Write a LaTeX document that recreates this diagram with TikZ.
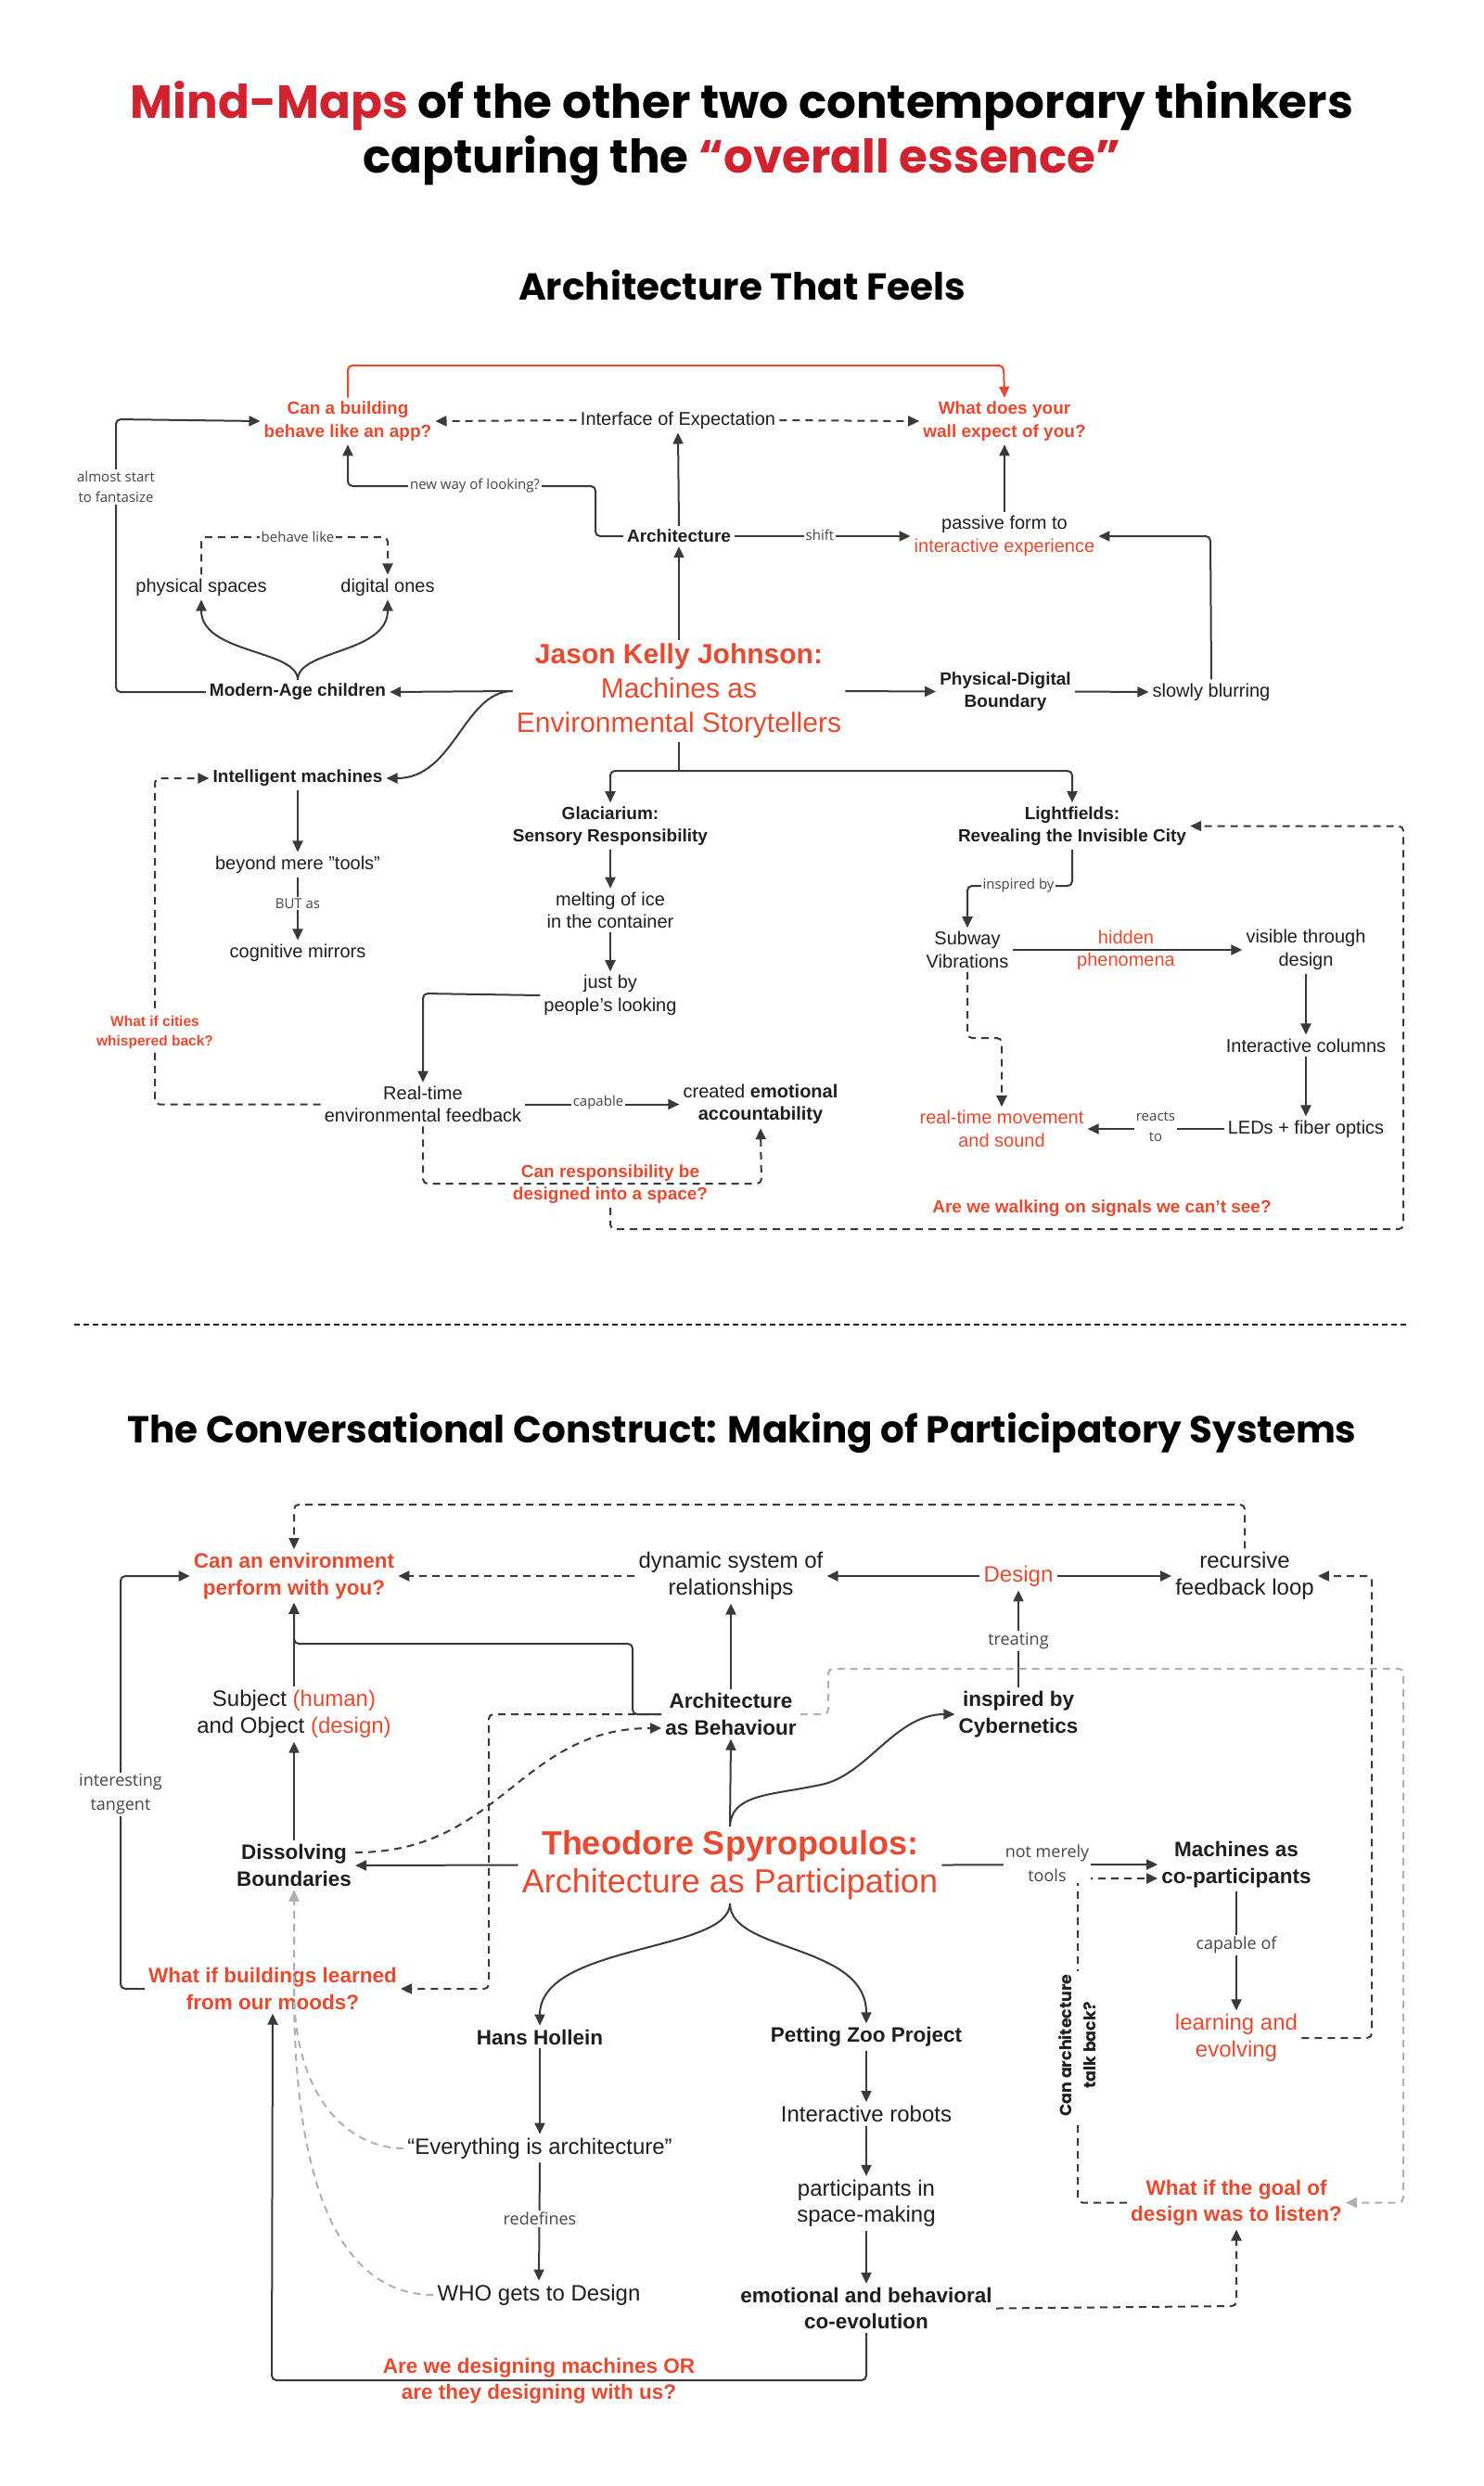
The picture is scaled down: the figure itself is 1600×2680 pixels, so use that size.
\documentclass[tikz,border=0pt]{standalone}
\usepackage{fontspec}
\setmainfont{Liberation Sans}
\newfontfamily\labfont{Open Sans}
\newfontfamily\ttlfont{Poppins}
\usetikzlibrary{arrows.meta,calc}
\definecolor{tred}{HTML}{D0232F}
\definecolor{nred}{HTML}{E84A2F}
\definecolor{ink}{HTML}{1E1E1E}
\definecolor{lnc}{HTML}{3A3A3A}
\definecolor{labc}{HTML}{454545}
\definecolor{gryd}{HTML}{B0B0B0}
\begin{document}
\begin{tikzpicture}[x=1pt,y=-1pt,
  every node/.style={text=ink, align=center, inner sep=4pt},
  ttl/.style={font=\ttlfont\bfseries\fontsize{50}{56}\selectfont, text=black, inner sep=0pt},
  stl/.style={font=\ttlfont\bfseries\fontsize{40.5}{46}\selectfont, text=black, inner sep=0pt},
  t1/.style={font=\fontsize{20}{24.5}\selectfont},
  t1b/.style={font=\fontsize{19}{24.5}\selectfont\bfseries},
  q1/.style={t1b, text=nred},
  r1/.style={t1, text=nred},
  q1s/.style={font=\fontsize{15.5}{21}\selectfont\bfseries, text=nred, fill=white, inner sep=2pt},
  c1/.style={font=\fontsize{30}{37}\selectfont, text=nred},
  t2/.style={font=\fontsize{24}{28.5}\selectfont},
  t2b/.style={font=\fontsize{22.5}{28.5}\selectfont\bfseries},
  q2/.style={t2b, text=nred},
  r2/.style={t2, text=nred},
  c2/.style={font=\fontsize{36}{41}\selectfont, text=nred},
  l1/.style={font=\labfont\fontsize{15}{22}\selectfont, text=labc, fill=white, inner sep=2pt},
  l2/.style={font=\labfont\fontsize{18}{26}\selectfont, text=labc, fill=white, inner sep=2pt},
  rotl/.style={font=\ttlfont\bfseries\fontsize{17.5}{26}\selectfont, text=ink, fill=white, inner sep=3pt},
  plain/.style={draw=lnc, line width=2pt, rounded corners=5pt},
  conn/.style={plain, -{Triangle[length=12pt,width=11pt]}},
  dconn/.style={conn, dash pattern=on 8pt off 6pt},
  rconn/.style={conn, draw=nred},
  gconn/.style={conn, draw=gryd, dash pattern=on 8pt off 6pt},
  sepl/.style={draw=ink, line width=2.5pt, dash pattern=on 6pt off 4pt}
]
\fill[white] (0,0) rectangle (1600,2680);
\useasboundingbox (0,0) rectangle (1600,2680);

% ---------- titles ----------
\node[ttl, anchor=base] (tl1) at (800,127) {\textcolor{tred}{Mind-Maps} of the other two contemporary thinkers};
\node[ttl, anchor=base] (tl2) at (800,186) {capturing the \textcolor{tred}{“overall essence”}};
\node[stl, anchor=base] (st1) at (800,323) {Architecture That Feels};
\node[stl, anchor=base] (st2) at (800,1555) {The Conversational Construct: Making of Participatory Systems};

% ---------- section 1 nodes ----------
\node[q1] (ca) at (375,454) {Can a building\\behave like an app?};
\node[t1] (ie) at (731,453) {Interface of Expectation};
\node[q1] (wd) at (1083,454) {What does your\\wall expect of you?};
\node[t1b] (arch) at (732,578) {Architecture};
\node[t1] (pf) at (1083,578) {passive form to\\\textcolor{nred}{interactive experience}};
\node[c1] (jkj) at (732,745) {\textbf{Jason Kelly Johnson:}\\Machines as\\Environmental Storytellers};
\node[t1b] (mac) at (321,746) {Modern-Age children};
\node[t1] (ps) at (217,633) {physical spaces};
\node[t1] (dg) at (418,633) {digital ones};
\node[t1b] (pdb) at (1084,745.5) {Physical-Digital\\Boundary};
\node[t1] (sb) at (1306,746) {slowly blurring};
\node[t1b] (im) at (321,839) {Intelligent machines};
\node[t1] (bm) at (321,932) {beyond mere "tools"};
\node[t1] (cm) at (321,1027) {cognitive mirrors};
\node[t1b] (gl) at (658,890.5) {Glaciarium:\\Sensory Responsibility};
\node[t1] (mi) at (658,981.5) {melting of ice\\in the container};
\node[t1] (jb) at (658,1073) {just by\\people's looking};
\node[t1] (rt) at (456,1190.5) {Real-time\\environmental feedback};
\node[t1] (cea) at (820,1190.5) {created \textbf{emotional}\\\textbf{accountability}};
\node[q1] (crq) at (658,1276.5) {Can responsibility be\\designed into a space?};
\node[t1b] (lf) at (1156,890.5) {Lightfields:\\Revealing the Invisible City};
\node[t1] (sv) at (1043,1024) {Subway\\Vibrations};
\node[t1] (vtd) at (1408,1024) {visible through\\design};
\node[t1] (ic) at (1408,1127) {Interactive columns};
\node[t1] (led) at (1408,1217) {LEDs + fiber optics};
\node[r1] (rtm) at (1080,1217) {real-time movement\\and sound};
\node[q1] (aw) at (1188,1303) {Are we walking on signals we can't see?};

% ---------- section 1 connectors ----------
\draw[rconn] (ca.north) -- (375,394) -- (1082,394) -- (wd.north);
\draw[dconn] (ie.west) -- (ca.east);
\draw[dconn] (ie.east) -- (wd.west);
\draw[conn] (arch.north) -- (ie.south);
\draw[conn] (arch.west) -- (642,578) -- (642,524) -- (375,524) -- (ca.south);
\draw[conn] (arch.east) -- (pf.west);
\draw[conn] (pf.north) -- (wd.south);
\draw[conn] (sb.north) -- (1305,578) -- (pf.east);
\draw[conn] (jkj.east) -- (pdb.west);
\draw[conn] (pdb.east) -- (sb.west);
\draw[conn] (jkj.north) -- (arch.south);
\draw[conn] (jkj.west) -- (mac.east);
\draw[conn] (jkj.west) .. controls (500,745) and (490,839) .. (im.east);
\draw[conn] (mac.west) -- (125,746) -- (125,452) -- (ca.west);
\draw[conn] (mac.north) .. controls (321,700) and (217,705) .. (ps.south);
\draw[conn] (mac.north) .. controls (321,700) and (418,705) .. (dg.south);
\draw[dconn] (ps.north) -- (217,579) -- (418,579) -- (dg.north);
\coordinate (brj) at (732,831);
\draw[plain] (jkj.south) -- (brj);
\draw[conn] (brj) -| (gl.north);
\draw[conn] (brj) -| (lf.north);
\draw[conn] (gl.south) -- (mi.north);
\draw[conn] (mi.south) -- (jb.north);
\draw[conn] (jb.west) -- (456,1071) -- (rt.north);
\draw[conn] (rt.east) -- (cea.west);
\draw[dconn] (rt.south) -- (456,1276) -- (821,1276) -- (cea.south);
\draw[dconn] (crq.south) -- (658,1325) -- (1513,1325) -- (1513,890.5) -- (lf.east);
\draw[dconn] (rt.west) -- (167,1190.5) -- (167,839) -- (im.west);
\draw[conn] (im.south) -- (bm.north);
\draw[conn] (bm.south) -- (cm.north);
\draw[conn] (lf.south) -- (1156,955) -- (1043,955) -- (sv.north);
\draw[conn] (sv.east) -- (vtd.west);
\draw[conn] (vtd.south) -- (ic.north);
\draw[conn] (ic.south) -- (led.north);
\draw[conn] (led.west) -- (rtm.east);
\draw[dconn] (sv.south) -- (1043,1119) -- (1080,1119) -- (rtm.north);

% ---------- section 1 labels ----------
\node[l1] (lb1) at (125,525) {almost start\\to fantasize};
\node[l1] (lb2) at (512,524) {new way of looking?};
\node[l1] (lb3) at (321,579) {behave like};
\node[l1] (lb4) at (884,577) {shift};
\node[l1] (lb5) at (321,974) {BUT as};
\node[l1] (lb6) at (645,1189) {capable};
\node[l1] (lb7) at (1098,955) {inspired by};
\node[l1] (lb8) at (1246,1215) {reacts\\to};
\node[font=\fontsize{20}{24}\selectfont, text=nred, inner sep=0pt] (lb9) at (1214,1024) {hidden\\phenomena};
\node[q1s] (wic) at (167,1112.5) {What if cities\\whispered back?};

% ---------- separator ----------
\coordinate (sepL) at (80,1428);
\coordinate (sepR) at (1520,1428);
\draw[sepl] (sepL) -- (sepR);

% ---------- section 2 nodes ----------
\node[q2] (cae) at (317,1699) {Can an environment\\perform with you?};
\node[t2] (dsr) at (788,1699) {dynamic system of\\relationships};
\node[r2] (des) at (1098,1699) {Design};
\node[t2] (rfl) at (1342,1699) {recursive\\feedback loop};
\node[t2b] (ab) at (788,1848) {Architecture\\as Behaviour};
\node[t2b] (cyb) at (1098,1848) {inspired by\\Cybernetics};
\node[t2] (soj) at (317,1848) {Subject \textcolor{nred}{(human)}\\and Object \textcolor{nred}{(design)}};
\node[t2b] (db) at (317,2011) {Dissolving\\Boundaries};
\node[c2] (ts) at (787,2010.5) {\textbf{Theodore Spyropoulos:}\\Architecture as Participation};
\node[t2b] (mcp) at (1333,2010) {Machines as\\co-participants};
\node[r2] (le) at (1333,2197) {learning and\\evolving};
\node[q2] (wbl) at (294,2144) {What if buildings learned\\from our moods?};
\node[t2b] (hh) at (582,2196) {Hans Hollein};
\node[t2b] (pz) at (934,2196) {Petting Zoo Project};
\node[t2] (eia) at (582,2316) {“Everything is architecture”};
\node[t2] (who) at (581,2474) {WHO gets to Design};
\node[t2] (ir) at (934,2279) {Interactive robots};
\node[t2] (pis) at (934,2375.5) {participants in\\space-making};
\node[t2b] (ebc) at (934,2488.5) {emotional and behavioral\\co-evolution};
\node[q2] (wgl) at (1333,2374.5) {What if the goal of\\design was to listen?};
\node[q2] (aq) at (581,2566.5) {Are we designing machines OR\\are they designing with us?};

% ---------- section 2 connectors ----------
\draw[dconn] (rfl.north) -- (1342,1622) -- (317,1622) -- (cae.north);
\draw[dconn] (dsr.west) -- (cae.east);
\draw[conn] (des.west) -- (dsr.east);
\draw[conn] (des.east) -- (rfl.west);
\draw[conn] (cyb.north) -- (des.south);
\draw[conn] (ab.north) -- (dsr.south);
\draw[gconn] (ab.east) -- (893,1848) -- (893,1799) -- (1513,1799) -- (1513,2374.5) -- (wgl.east);
\draw[dconn] (ab.west) -- (527,1848) -- (527,2144) -- (wbl.east);
\draw[conn] (ab.west) -- (682,1848) -- (682,1772) -- (317,1772) -- (cae.south);
\draw[conn] (soj.north) -- (cae.south);
\draw[conn] (db.north) -- (soj.south);
\draw[conn] (ts.west) -- (db.east);
\draw[dconn] ($(db.east)+(0,-14)$) .. controls (540,1997) and (560,1863) .. ($(ab.west)+(0,15)$);
\draw[conn] (ts.north) -- (ab.south);
\draw[conn] (ts.north) .. controls (788,1935) and (830,1935) .. (880,1925) .. controls (935,1914) and (965,1848) .. (cyb.west);
\draw[conn] (ts.east) -- (mcp.west);
\draw[dconn] (wgl.west) -- (1162,2374.5) -- (1162,2025) -- ($(mcp.west)+(0,15)$);
\draw[conn] (mcp.south) -- (le.north);
\draw[dconn] (le.east) -- (1479,2197) -- (1479,1699) -- (rfl.east);
\draw[conn] (ts.south) .. controls (787,2105) and (582,2095) .. (hh.north);
\draw[conn] (ts.south) .. controls (787,2105) and (934,2095) .. (pz.north);
\draw[conn] (hh.south) -- (eia.north);
\draw[conn] (eia.south) -- (who.north);
\draw[gconn] (eia.west) .. controls (375,2316) and (317,2260) .. (317,2140) -- (db.south);
\draw[gconn] (who.west) .. controls (400,2474) and (317,2420) .. (317,2140) -- (db.south);
\draw[conn] (pz.south) -- (ir.north);
\draw[conn] (ir.south) -- (pis.north);
\draw[conn] (pis.south) -- (ebc.north);
\draw[dconn] (ebc.east) -- (1333,2486) -- (wgl.south);
\draw[conn] (ebc.south) -- (934,2566) -- (293,2566) -- (wbl.south);
\draw[conn] (wbl.west) -- (130,2144) -- (130,1699) -- (cae.west);

% ---------- section 2 labels ----------
\node[l2] (lc1) at (1098,1769) {treating};
\node[l2] (lc2) at (130,1934.5) {interesting\\tangent};
\node[l2] (lc3) at (1129,2008.5) {not merely\\tools};
\node[l2] (lc4) at (1333,2097) {capable of};
\node[l2] (lc5) at (582,2392) {redefines};
\node[rotl, rotate=90] (lc6) at (1162,2205) {Can architecture\\talk back?};
\end{tikzpicture}
\end{document}
